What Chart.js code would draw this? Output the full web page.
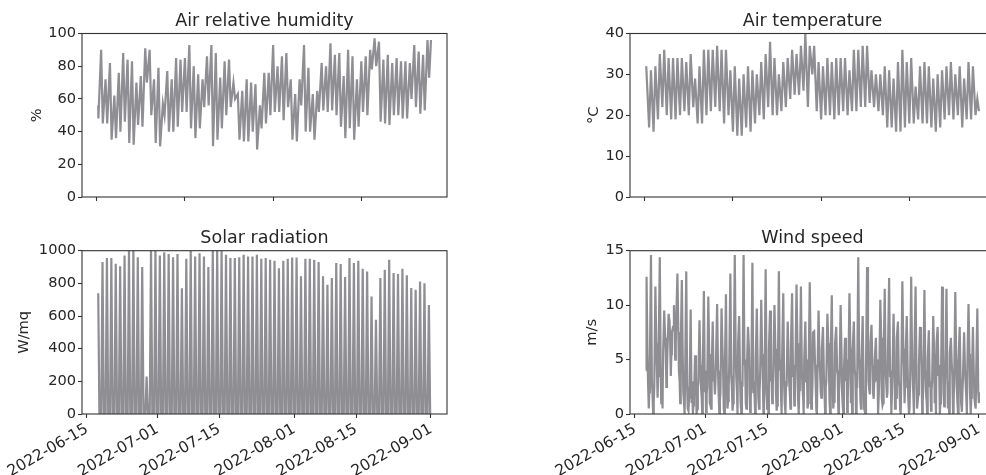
<!DOCTYPE html>
<html>
<head>
<meta charset="utf-8">
<script src="https://cdn.jsdelivr.net/npm/chart.js@4.4.0/dist/chart.umd.min.js"></script>
<style>
  html, body { margin: 0; padding: 0; background: #fff; overflow: hidden; }
  #wrap { position: relative; width: 1010px; height: 475px; }
  #wrap canvas { position: absolute; left: 0; top: 0; }
</style>
</head>
<body>
<div id="wrap">
  <canvas id="hum" width="1010" height="475"></canvas>
  <canvas id="temp" width="1010" height="475"></canvas>
  <canvas id="solar" width="1010" height="475"></canvas>
  <canvas id="wind" width="1010" height="475"></canvas>
</div>
<script>
// x values are days counted from 2022-06-15 00:00
const tickDays = [0, 16, 30, 47, 61, 78];
const tickLabels = ['2022-06-15', '2022-07-01', '2022-07-15', '2022-08-01', '2022-08-15', '2022-09-01'];
const topTickDays = [2.2, 22.2, 42.2, 62.2];   // unlabeled ticks of the upper panels
const firstDay = 2;       // 2022-06-17, first day in the daily arrays
const startDay = 2.55;    // series start, afternoon of 2022-06-17
const endDay = 78;        // 2022-09-01 00:00

// daily values, 2022-06-17 .. 2022-08-31 (null = before the series starts)
const humMax = [null, 90, 72, 82, 62, 76, 88, 84, 83, 70, 74, 91, 90, 72, 79, 57, 77, 72, 85, 84, 85, 93, 80, 75, 72, 86, 93, 88, 73, 83, 84, 70, 63, 65, 72, 70, 69, 56, 76, 76, 93, 80, 86, 88, 72, 63, 72, 93, 79, 63, 65, 82, 80, 94, 87, 88, 74, 90, 86, 72, 83, 86, 90, 97, 95, 84, 87, 82, 85, 83, 83, 82, 93, 89, 87, 96];
const humMin = [48, 45, 45, 35, 36, 40, 46, 33, 32, 44, 43, 70, 50, 33, 31, 50, 40, 40, 43, 52, 52, 42, 36, 42, 55, 56, 31, 35, 42, 50, 55, 60, 35, 34, 34, 40, 29, 42, 45, 50, 52, 52, 47, 55, 35, 34, 56, 40, 40, 35, 52, 53, 52, 53, 50, 43, 36, 42, 35, 43, 52, 50, 78, 80, 46, 45, 44, 50, 50, 48, 48, 60, 55, 51, 53, 73];
const tempMin = [null, 17, 16, 19, 22, 20, 19, 19, 20, 21, 20, 22, 18, 18, 20, 21, 22, 21, 18, 20, 16, 15, 15, 17, 16, 18, 20, 19, 22, 20, 20, 21, 22, 24, 25, 25, 26, 22, 30, 21, 19, 20, 20, 19, 20, 21, 20, 21, 21, 22, 22, 23, 22, 21, 20, 17, 17, 16, 16, 17, 18, 18, 19, 18, 18, 17, 16, 17, 19, 20, 19, 20, 17, 19, 19, 20];
const tempMax = [null, 31, 32, 35, 36, 34, 34, 34, 34, 33, 35, 29, 32, 36, 36, 36, 37, 36, 36, 31, 32, 29, 30, 32, 31, 30, 33, 35, 38, 34, 30, 33, 34, 36, 35, 37, 40, 37, 37, 33, 32, 34, 33, 34, 34, 34, 31, 36, 36, 37, 37, 31, 30, 30, 32, 31, 29, 33, 36, 33, 34, 27, 32, 33, 32, 29, 30, 31, 32, 33, 30, 32, 29, 33, 32, 24];
const solarPeak = [null, 930, 955, 955, 920, 905, 970, 1000, 1000, 960, 900, 230, 1000, 1000, 970, 990, 980, 960, 980, 770, 950, 1000, 965, 985, 965, 900, 1000, 1000, 1000, 975, 955, 955, 960, 975, 965, 965, 975, 950, 955, 945, 939, 893, 939, 951, 959, 959, 843, 951, 951, 945, 930, 843, 791, 832, 924, 918, 839, 955, 924, 939, 889, 873, 719, 577, 832, 883, 945, 863, 857, 889, 849, 771, 761, 812, 801, 668];
const windLow = [null, 0.5, 0.0, 1.5, 2.0, 2.5, 3.5, 5.0, 3.0, 1.0, 0.3, 0.0, 0.5, 1.5, 0.2, 0.8, 1.8, 0.0, 0.5, 1.2, 0.3, 2.0, 0.0, 1.0, 0.2, 1.5, 0.5, 0.0, 2.0, 1.0, 0.3, 1.5, 0.0, 1.8, 0.8, 0.0, 1.5, 0.5, 1.2, 0.3, 2.0, 0.0, 1.0, 1.5, 0.0, 0.6, 0.2, 1.8, 0.0, 1.2, 0.5, 2.2, 1.4, 0.0, 0.8, 1.5, 0.0, 2.0, 0.4, 1.0, 0.0, 1.6, 0.5, 0.0, 1.2, 0.3, 1.8, 0.0, 0.7, 1.3, 0.0, 1.0, 0.2, 1.5, 0.0, 0.8];
const windDawn = [null, 2.0, 1.0, 3.5, 0.5, 4.0, 5.5, 6.5, 1.0, 0.0, 1.5, 0.8, 2.5, 0.0, 1.8, 0.5, 3.0, 1.2, 0.0, 2.5, 1.0, 0.0, 3.0, 0.5, 1.5, 0.0, 2.0, 1.0, 0.0, 2.5, 0.8, 0.0, 3.0, 0.5, 1.5, 2.2, 0.0, 1.0, 3.0, 0.0, 1.5, 2.5, 0.0, 1.0, 2.0, 0.0, 1.5, 0.0, 2.5, 0.5, 0.0, 1.8, 3.0, 0.0, 1.0, 2.0, 0.0, 1.5, 0.0, 2.5, 0.5, 0.0, 1.8, 1.0, 0.0, 2.2, 0.0, 1.0, 2.5, 0.0, 1.2, 0.0, 2.0, 0.0, 1.5, 0.5];
const windAm = [null, 4.5, 2.5, 6.0, 5.5, 6.0, 7.5, 9.0, 6.0, 3.5, 2.0, 1.5, 3.0, 4.0, 2.5, 3.5, 5.0, 2.0, 3.5, 4.5, 3.0, 6.5, 2.5, 4.0, 3.0, 5.0, 3.5, 2.0, 6.0, 4.5, 3.0, 5.5, 2.5, 6.5, 4.0, 3.0, 5.0, 4.0, 7.5, 3.5, 6.0, 3.0, 5.0, 6.5, 3.0, 4.0, 3.5, 6.0, 2.5, 5.0, 4.0, 6.5, 5.0, 3.0, 4.5, 6.0, 3.5, 7.0, 3.0, 5.5, 2.5, 6.0, 4.5, 3.5, 5.0, 3.0, 6.5, 2.5, 4.5, 5.5, 3.0, 5.0, 3.5, 4.5, 3.0, 4.0];
const windPeak = [12.6, 14.6, 11.7, 14.4, 9.5, 9.2, 8.0, 12.9, 12.3, 13.1, 9.6, 5.4, 8.6, 11.3, 10.8, 8.5, 10.1, 9.7, 11.0, 12.9, 14.6, 9.0, 14.6, 8.0, 13.9, 9.7, 10.5, 13.3, 9.5, 10.0, 13.1, 11.1, 8.5, 11.1, 11.9, 11.7, 8.5, 12.1, 7.6, 9.5, 8.0, 9.2, 10.9, 8.0, 10.0, 7.0, 11.1, 8.5, 14.4, 9.0, 13.5, 8.2, 7.0, 10.5, 11.5, 12.5, 9.2, 8.5, 12.2, 9.0, 12.6, 11.7, 8.0, 11.4, 7.7, 9.0, 8.0, 11.7, 11.5, 7.0, 11.2, 8.0, 7.5, 10.1, 8.0, 9.7];
const windPm = [5.5, 3.0, 6.5, 4.0, 7.0, 8.5, 10.0, 7.5, 5.0, 2.5, 1.0, 3.5, 4.5, 2.0, 5.5, 3.0, 4.0, 6.0, 2.5, 3.5, 5.5, 3.0, 4.5, 6.0, 2.0, 4.0, 5.5, 3.5, 3.0, 6.0, 4.0, 2.5, 5.0, 3.5, 6.5, 4.0, 3.0, 6.0, 4.5, 5.0, 3.5, 6.5, 2.5, 4.0, 5.5, 3.0, 6.0, 4.0, 5.0, 2.5, 6.0, 4.5, 3.0, 7.0, 4.0, 3.5, 5.5, 3.0, 6.0, 4.0, 5.0, 3.0, 6.5, 4.0, 2.5, 5.5, 3.5, 6.0, 3.0, 4.5, 5.0, 3.0, 4.0, 5.5, 3.5, 2.0];
const windNight = [3.0, 2.0, 4.5, 1.0, 6.0, 7.0, 8.0, 4.0, 2.0, 0.5, 3.0, 0.0, 2.5, 4.0, 1.0, 3.5, 2.0, 4.5, 0.5, 2.5, 3.5, 1.0, 5.0, 2.0, 3.0, 1.5, 4.0, 0.5, 3.5, 2.0, 5.0, 1.0, 3.0, 4.5, 1.5, 2.5, 5.0, 0.5, 3.0, 4.0, 2.0, 4.5, 0.5, 3.5, 2.0, 5.0, 1.0, 3.5, 4.0, 0.5, 3.0, 2.0, 5.0, 1.5, 3.0, 4.0, 0.5, 2.5, 4.5, 1.5, 3.5, 0.5, 4.0, 2.0, 3.0, 1.0, 4.5, 2.0, 0.5, 3.5, 2.5, 1.0, 4.0, 2.0, 1.5, 2.0];

// build {x,y} points: cols = [[hour, array or constant], ...]
function build(startVal, cols, endVal) {
  const pts = [{x: startDay, y: startVal}];
  const n = 76;
  for (let i = 0; i < n; i++) {
    for (const [h, arr] of cols) {
      const x = firstDay + i + h / 24;
      const y = Array.isArray(arr) ? arr[i] : arr;
      if (x > startDay && y !== null) pts.push({x, y});
    }
  }
  pts.push({x: endDay, y: endVal});
  return pts;
}

const TXT = '#262626';
const SPINE = '#333333';
const LINE = '#8e8e93';
const FONT = 'DejaVu Sans';

const frame = {
  id: 'frame',
  afterDraw(chart) {
    const a = chart.chartArea, ctx = chart.ctx;
    ctx.save();
    ctx.strokeStyle = SPINE;
    ctx.lineWidth = 1.1;
    ctx.strokeRect(a.left, a.top, a.right - a.left, a.bottom - a.top);
    ctx.restore();
  }
};

function makeChart(id, p) {
  const xTicks = p.showX ? tickDays : topTickDays;
  new Chart(document.getElementById(id), {
    type: 'line',
    data: { datasets: [{ data: p.data, borderColor: LINE, borderWidth: 2.2, pointRadius: 0, tension: 0 }] },
    plugins: [frame],
    options: {
      responsive: false,
      animation: false,
      events: [],
      layout: { padding: { left: p.padLeft, right: 1010 - p.plotRight, top: p.padTop, bottom: 0 } },
      plugins: {
        legend: { display: false },
        tooltip: { enabled: false },
        title: {
          display: true, text: p.title, fullSize: false, color: TXT,
          font: { family: FONT, size: 17.5, weight: 'normal' },
          padding: { top: 11, bottom: 1.5 }
        }
      },
      scales: {
        x: {
          type: 'linear', min: -1.13, max: 81.63,
          afterBuildTicks: s => { s.ticks = xTicks.map(v => ({ value: v })); },
          afterFit: s => { s.height = 475 - p.plotBottom; },
          border: { display: false },
          grid: { display: true, drawOnChartArea: false, drawTicks: true, tickLength: 4, tickColor: SPINE, tickWidth: 1.1 },
          ticks: {
            autoSkip: false, minRotation: 30, maxRotation: 30, padding: 2, color: TXT,
            font: { family: FONT, size: 15.5 },
            callback: v => p.showX ? tickLabels[tickDays.indexOf(v)] : ''
          }
        },
        y: {
          min: 0, max: p.yMax,
          afterFit: s => { s.width = p.plotLeft - p.padLeft; },
          border: { display: false },
          grid: { display: true, drawOnChartArea: false, drawTicks: true, tickLength: 4, tickColor: SPINE, tickWidth: 1.1 },
          ticks: { stepSize: p.yStep, padding: 2, color: TXT, font: { family: FONT, size: 14.6 }, callback: v => String(v) },
          title: { display: true, text: p.yTitle, color: TXT, padding: 0, font: { family: FONT, size: 14.6 } }
        }
      }
    }
  });
}

makeChart('hum', {
  title: 'Air relative humidity', yTitle: '%', yMax: 100, yStep: 20, showX: false,
  padLeft: 28.6, plotLeft: 82, plotRight: 447, padTop: 0, plotBottom: 197,
  data: build(56, [[5, humMax], [14, humMin]], 96)
});
makeChart('temp', {
  title: 'Air temperature', yTitle: '°C', yMax: 40, yStep: 10, showX: false,
  padLeft: 585.4, plotLeft: 630, plotRight: 995, padTop: 0, plotBottom: 197,
  data: build(32, [[5, tempMin], [15, tempMax]], 21)
});
makeChart('solar', {
  title: 'Solar radiation', yTitle: 'W/mq', yMax: 1000, yStep: 200, showX: true,
  padLeft: 15.9, plotLeft: 82, plotRight: 447, padTop: 217.2, plotBottom: 414,
  data: build(740, [[5.5, 0], [12.5, solarPeak], [19.5, 0]], 0)
});
makeChart('wind', {
  title: 'Wind speed', yTitle: 'm/s', yMax: 15, yStep: 5, showX: true,
  padLeft: 583.4, plotLeft: 630, plotRight: 995, padTop: 217.2, plotBottom: 414,
  data: build(4, [[3, windLow], [6, windDawn], [9, windAm], [15, windPeak], [20, windPm], [23, windNight]], 1)
});
</script>
</body>
</html>
